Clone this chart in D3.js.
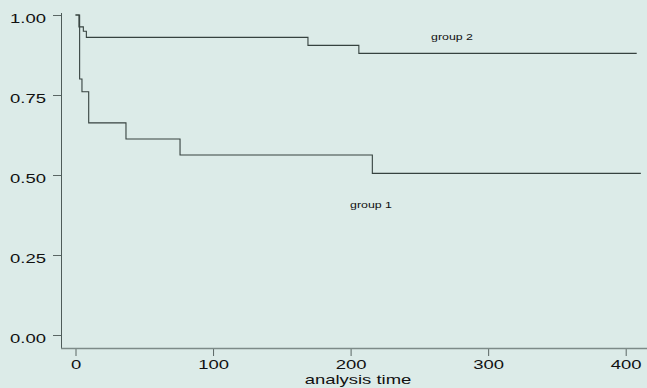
<!DOCTYPE html>
<html>
<head>
<meta charset="utf-8">
<script src="https://cdn.jsdelivr.net/npm/d3@7"></script>
<style>
  body { margin: 0; background: #dcebe8; }
  svg { display: block; }
  text { font-family: "Liberation Sans", Arial, sans-serif; fill: #111; }
</style>
</head>
<body>
<script>
let width = 647;
let height = 388;

// survival estimates
let timesG1 = [0, 3, 4.7, 9.6, 36.7, 76, 215.8, 411];
let survG1 = [1, 0.80, 0.76, 0.663, 0.6125, 0.5625, 0.505, 0.505];
let timesG2 = [0, 2.5, 5.7, 7.9, 169, 206, 408];
let survG2 = [1, 0.963, 0.949, 0.93, 0.905, 0.88, 0.88];

let xTicks = [0, 100, 200, 300, 400];
let yTicks = [0, 0.25, 0.5, 0.75, 1];
let xTitle = "analysis time";

let svg = d3.select("body")
            .append("svg")
            .attr("width", width)
            .attr("height", height);

svg.append("rect")
    .attr("width", width)
    .attr("height", height)
    .attr("fill", "#dcebe8");

let x = d3.scaleLinear().domain([0, 400]).range([75.5, 625.7]);
let y = d3.scaleLinear().domain([0, 1]).range([335, 15]);

// stretch text horizontally like the original export
function stretch(sel, k) {
    sel.each(function() {
        let w = this.getComputedTextLength();
        d3.select(this)
            .attr("textLength", w * k)
            .attr("lengthAdjust", "spacingAndGlyphs");
    });
}

// y axis
let yAxis = svg.append("g")
    .attr("transform", "translate(61,0)")
    .call(d3.axisLeft(y).tickValues(yTicks).tickSize(8).tickFormat(d3.format(".2f")));
yAxis.select(".domain").remove();
yAxis.selectAll(".tick line").attr("stroke", "#5a6664");
yAxis.selectAll(".tick text")
    .attr("x", -15)
    .attr("dy", "0.55em")
    .style("font-size", "13px")
    .style("font-family", "Liberation Sans, Arial, sans-serif")
    .attr("fill", "#111")
    .call(stretch, 1.42);

svg.append("line")
    .attr("x1", 61.5).attr("x2", 61.5)
    .attr("y1", 13).attr("y2", 349)
    .attr("stroke", "#4e5b59")
    .attr("stroke-width", 1);

// x axis
let xAxis = svg.append("g")
    .attr("transform", "translate(0,349)")
    .call(d3.axisBottom(x).tickValues(xTicks).tickSize(7).tickFormat(d3.format("d")));
xAxis.select(".domain").remove();
xAxis.selectAll(".tick line").attr("stroke", "#5a6664");
xAxis.selectAll(".tick text")
    .attr("y", 11)
    .style("font-size", "13px")
    .style("font-family", "Liberation Sans, Arial, sans-serif")
    .attr("fill", "#111")
    .call(stretch, 1.42);

svg.append("line")
    .attr("x1", 61).attr("x2", width)
    .attr("y1", 348.5).attr("y2", 348.5)
    .attr("stroke", "#7d8a88")
    .attr("stroke-width", 1.5);

svg.append("text")
    .attr("x", 358)
    .attr("y", 384)
    .attr("text-anchor", "middle")
    .style("font-size", "13px")
    .text(xTitle)
    .call(stretch, 1.42);

// survival curves
let line = d3.line()
    .x((d) => x(d[0]))
    .y((d) => y(d[1]))
    .curve(d3.curveStepAfter);

let g1 = timesG1.map((t, i) => [t, survG1[i]]);
let g2 = timesG2.map((t, i) => [t, survG2[i]]);

[g1, g2].forEach((data) => {
    svg.append("path")
        .attr("d", line(data))
        .attr("fill", "none")
        .attr("stroke", "#36423f")
        .attr("stroke-width", 1.1);
});

// curve labels
svg.append("text")
    .attr("x", 452)
    .attr("y", 40)
    .attr("text-anchor", "middle")
    .style("font-size", "9.5px")
    .text("group 2")
    .call(stretch, 1.3);

svg.append("text")
    .attr("x", 371)
    .attr("y", 208)
    .attr("text-anchor", "middle")
    .style("font-size", "9.5px")
    .text("group 1")
    .call(stretch, 1.3);
</script>
</body>
</html>
